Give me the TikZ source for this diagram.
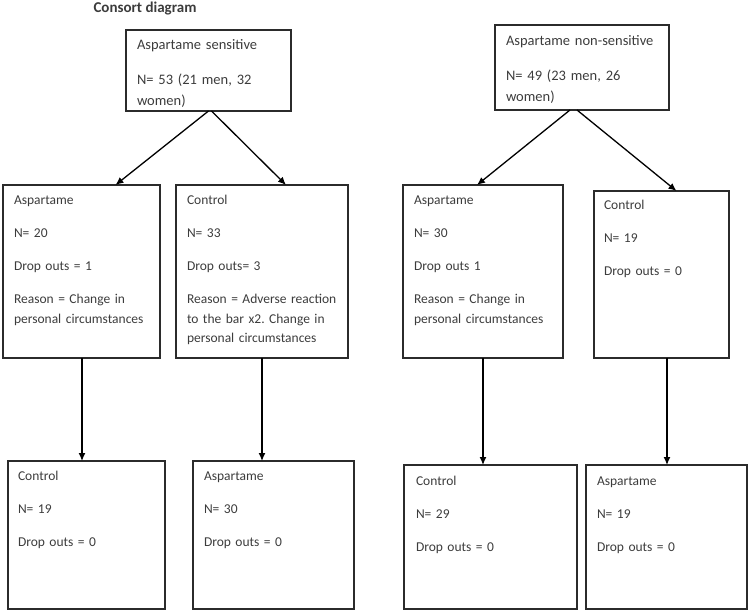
\documentclass[tikz,border=0pt]{standalone}
\usepackage{fontspec}
\setmainfont{Carlito}
\usepackage{xcolor}
\usepackage{tikz}
\usetikzlibrary{arrows.meta,calc}
\definecolor{boxline}{HTML}{2B2B2B}
\definecolor{textgray}{HTML}{3C3C3C}
\frenchspacing

\tikzset{
  cbox/.style={draw=boxline, line width=1.2pt, anchor=north west,
    inner xsep=11pt, inner ysep=0pt, outer sep=0pt, align=left,
    text=textgray, font=\fontsize{13.5}{19.5}\selectfont, text height=20pt},
  topbox/.style={cbox, font=\fontsize{14.5}{21}\selectfont},
  arm/.style={draw=black, line width=1.3pt, -{Latex[length=8pt,width=7pt]}}
}

\begin{document}
\begin{tikzpicture}[x=1pt,y=-1pt]
  \useasboundingbox (0,0) rectangle (750,612);

  \node[anchor=base west, font=\fontsize{15}{18}\selectfont\bfseries, text=textgray]
    (title) at (90,12.5) {Consort diagram};

  % recruited groups
  \node[topbox, text width=143pt, text depth=61pt] (sens) at (126,30)
    {Aspartame sensitive\\[14pt]N= 53 (21 men, 32\\women)};
  \node[topbox, text width=152pt, text depth=64pt, text height=21pt] (nons) at (495,25)
    {Aspartame non-sensitive\\[14pt]N= 49 (23 men, 26\\women)};

  % first arm
  \node[cbox, text width=135pt, text depth=153pt] (asp1) at (3,185)
    {Aspartame\\[13.5pt]N= 20\\[13.5pt]Drop outs = 1\\[13.5pt]Reason = Change in\\personal circumstances};
  \node[cbox, text width=150pt, text depth=153pt] (con1) at (176,185)
    {Control\\[13.5pt]N= 33\\[13.5pt]Drop outs= 3\\[13.5pt]Reason = Adverse reaction\\to the bar x2. Change in\\personal circumstances};
  \node[cbox, text width=138pt, text depth=153pt] (asp2) at (403,185)
    {Aspartame\\[13.5pt]N= 30\\[13.5pt]Drop outs 1\\[13.5pt]Reason = Change in\\personal circumstances};
  \node[cbox, text width=115pt, text depth=148pt, text height=19pt, inner xsep=10pt] (con2) at (594,191)
    {Control\\[13.5pt]N= 19\\[13.5pt]Drop outs = 0};

  % crossover arm
  \node[cbox, text width=137pt, text depth=129pt, text height=19pt, inner xsep=10pt] (con3) at (8,461)
    {Control\\[13.5pt]N= 19\\[13.5pt]Drop outs = 0};
  \node[cbox, text width=139pt, text depth=129pt, text height=19pt] (asp3) at (193,461)
    {Aspartame\\[13.5pt]N= 30\\[13.5pt]Drop outs = 0};
  \node[cbox, text width=149pt, text depth=124pt, inner xsep=12pt] (con4) at (404,465)
    {Control\\[13.5pt]N= 29\\[13.5pt]Drop outs = 0};
  \node[cbox, text width=139pt, text depth=124pt] (asp4) at (586,465)
    {Aspartame\\[13.5pt]N= 19\\[13.5pt]Drop outs = 0};

  % connectors
  \draw[arm] (sens.south) -- ([xshift=34pt]asp1.north);
  \draw[arm] ([xshift=3pt]sens.south) -- ([xshift=24pt]con1.north);
  \draw[arm] ([xshift=-12pt]nons.south) -- ([xshift=-6pt]asp2.north);
  \draw[arm] ([xshift=-5pt]nons.south) -- ([xshift=15pt]con2.north);
  \draw[arm] ([xshift=0.5pt]asp1.south) -- ([xshift=0.5pt]asp1.south |- con3.north);
  \draw[arm] (con1.south) -- (con1.south |- asp3.north);
  \draw[arm] (asp2.south) -- (asp2.south |- con4.north);
  \draw[arm] ([xshift=5.5pt]con2.south) -- ([xshift=0.5pt]asp4.north);
\end{tikzpicture}
\end{document}
